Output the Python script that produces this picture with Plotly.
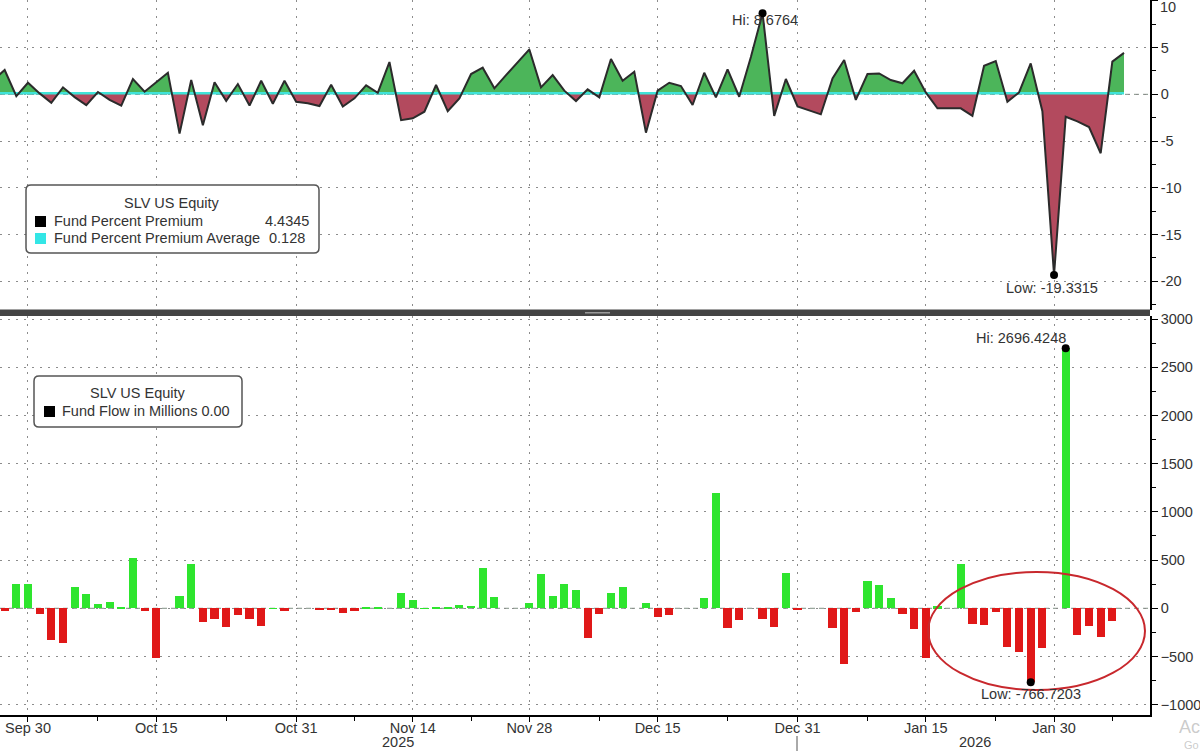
import plotly.graph_objects as go
import pandas as pd

# ---------------- data ----------------
dates = [d.strftime("%Y-%m-%d") for d in pd.bdate_range("2025-09-25", "2026-02-09")]

premium = [1.5,
    2.6, -0.2, 1.24, 0.1, -0.9, 0.75, -0.3, -1.15, 0.25, -0.6,
    -1.2, 1.64, 0.28, 1.3, 2.3, -4.2, 1.53, -3.3, 1.3, -0.7,
    1.1, -1.2, 1.45, -1.0, 1.45, -0.8, -0.95, -1.25, 1.03, -1.3,
    -0.43, 0.96, 0.17, 3.45, -2.76, -2.57, -1.86, 1.0, -1.8, -0.43,
    2.17, 2.85, 0.64, 2.06, 3.45, 4.8, 0.75, 2.06, 0.39, -0.72,
    0.53, -0.32, 3.78, 1.46, 2.42, -4.1, 0.39, 1.24, 0.89, -1.14,
    2.31, -0.32, 2.67, -0.26, 4.0, 8.6764, -2.3, 1.64, -1.3, -1.7,
    -2.14, 1.7, 3.67, -0.6, 2.17, 2.24, 1.53, 1.18, 2.52, 0.2,
    -1.5, -1.5, -1.5, -2.3, 3.06, 3.56, -0.79, 0.2, 3.3, -1.8,
    -19.3315, -2.4, -2.9, -3.5, -6.3, 3.5, 4.4345]

premium_avg = 0.128

flows = [None,
    -25, 249, 249, -59, -328, -356, 225, 149, 41, 62,
    5, 519, -28, -519, 0, 131, 460, -138, -114, -197,
    -73, -107, -183, 3, -28, 0, 0, -17, -17, -48,
    -28, 5, 5, 0, 156, 86, 3, 5, 10, 35,
    28, 422, 121, 0, 0, 52, 356, 131, 256, 190,
    -311, -62, 163, 225, 0, 52, -86, -73, 0, 0,
    111, 1193, -207, -121, 0, -114, -190, 370, -17, 0,
    0, -200, -581, -41, 287, 242, 111, -59, -218, -519,
    20, 0, 460, -163, -173, -41, -405, -450, -766.7203, -415,
    0, 2696.4248, -277, -183, -301, -128, 0]

tick_dates = ["2025-09-30", "2025-10-15", "2025-10-31", "2025-11-14", "2025-11-28",
              "2025-12-15", "2025-12-31", "2026-01-15", "2026-01-30"]
tick_labels = ["Sep 30", "Oct 15", "Oct 31", "Nov 14", "Nov 28",
               "Dec 15", "Dec 31", "Jan 15", "Jan 30"]
minor_dates = ["2025-10-08", "2025-10-23", "2025-11-07", "2025-11-21", "2025-12-08",
               "2025-12-23", "2026-01-08", "2026-01-23", "2026-02-06"]
year_labels = ["2025", "2026"]
top_ticks = [-20, -15, -10, -5, 0, 5, 10]
bottom_ticks = [-1000, -500, 0, 500, 1000, 1500, 2000, 2500, 3000]

# ---------------- helpers ----------------
W, H = 1150.0, 715.0
def px(v): return v / W
def py(v): return 1 - v / H

FONT = "Liberation Sans"
TXT = "#333333"
GREEN_FILL = "#4cb55a"
RED_FILL = "#b34a5e"
BAR_GREEN = "#2ee52e"
BAR_RED = "#e01818"
FS = 14.5

x = list(range(len(dates)))
idx = {d: i for i, d in enumerate(dates)}
tickvals = [idx[d] for d in tick_dates]
minorvals = [idx[d] for d in minor_dates]

# split premium area into above/below average parts (with crossing points)
xa, ya = [], []
for k in range(len(x)):
    if k > 0:
        v0 = premium[k - 1] - premium_avg
        v1 = premium[k] - premium_avg
        if v0 * v1 < 0:
            t = v0 / (v0 - v1)
            xa.append(x[k - 1] + t)
            ya.append(premium_avg)
    xa.append(x[k])
    ya.append(premium[k])
pos = [max(v, premium_avg) for v in ya]
neg = [min(v, premium_avg) for v in ya]
base = [premium_avg] * len(xa)

fig = go.Figure()
# top panel
fig.add_trace(go.Scatter(x=xa, y=base, mode="lines", line=dict(width=0), xaxis="x2", yaxis="y", hoverinfo="skip"))
fig.add_trace(go.Scatter(x=xa, y=pos, mode="lines", line=dict(width=0), fill="tonexty",
                         fillcolor=GREEN_FILL, xaxis="x2", yaxis="y", hoverinfo="skip"))
fig.add_trace(go.Scatter(x=xa, y=base, mode="lines", line=dict(width=0), xaxis="x2", yaxis="y", hoverinfo="skip"))
fig.add_trace(go.Scatter(x=xa, y=neg, mode="lines", line=dict(width=0), fill="tonexty",
                         fillcolor=RED_FILL, xaxis="x2", yaxis="y", hoverinfo="skip"))
fig.add_trace(go.Scatter(x=[x[0], x[-1]], y=[premium_avg, premium_avg], mode="lines",
                         line=dict(color="#3fe3d8", width=2.5), xaxis="x2", yaxis="y"))
fig.add_trace(go.Scatter(x=x, y=premium, mode="lines", line=dict(color="#2b2b2b", width=2),
                         xaxis="x2", yaxis="y"))

hi_p = max(range(len(premium)), key=lambda k: premium[k])
lo_p = min(range(len(premium)), key=lambda k: premium[k])
fig.add_trace(go.Scatter(x=[hi_p, lo_p], y=[premium[hi_p], premium[lo_p]], mode="markers",
                         marker=dict(color="black", size=8), xaxis="x2", yaxis="y"))

# bottom panel
fx = [x[k] for k in range(len(x)) if flows[k] is not None]
fy = [flows[k] for k in range(len(x)) if flows[k] is not None]
fig.add_trace(go.Bar(x=fx, y=fy, width=0.7,
                     marker=dict(color=[BAR_GREEN if v >= 0 else BAR_RED for v in fy], line=dict(width=0)),
                     xaxis="x", yaxis="y2"))
hi_f = max(range(len(fx)), key=lambda k: fy[k])
lo_f = min(range(len(fx)), key=lambda k: fy[k])
fig.add_trace(go.Scatter(x=[fx[hi_f], fx[lo_f]], y=[fy[hi_f], fy[lo_f]], mode="markers",
                         marker=dict(color="black", size=8), xaxis="x", yaxis="y2"))

# ranges
x_range = [0.6, 99.23]
top_range = [-23.07, 10.09]
bot_range = [-1107, 3032]

grid = dict(gridcolor="#8c8c8c", griddash="2px,6px", gridwidth=1)

fig.update_layout(
    template="none",
    width=1200, height=751,
    margin=dict(l=0, r=50, t=0, b=36, autoexpand=False),
    paper_bgcolor="white", plot_bgcolor="white",
    showlegend=False,
    bargap=0,
    font=dict(family=FONT, size=FS, color=TXT),
    xaxis=dict(domain=[0, 1], anchor="y2", range=x_range, tickmode="array", automargin=False,
               tickvals=tickvals, ticktext=tick_labels, ticks="outside", ticklen=5,
               tickcolor="black", showline=True, linecolor="black", linewidth=1.5,
               showgrid=True, zeroline=False, ticklabelstandoff=-6,
               minor=dict(tickvals=minorvals, ticks="outside", ticklen=4, tickcolor="black", showgrid=False),
               tickfont=dict(size=FS, color=TXT), **grid),
    xaxis2=dict(domain=[0, 1], anchor="y", matches="x", range=x_range, tickmode="array", automargin=False,
                tickvals=tickvals, showticklabels=False, ticks="", showline=False,
                showgrid=True, zeroline=False, **grid),
    yaxis=dict(domain=[py(310), 1], anchor="x2", side="right", range=top_range, automargin=False,
               tickmode="array", tickvals=top_ticks,
               ticktext=[str(v) if v != 10 else "" for v in top_ticks],
               ticks="outside", ticklen=6, tickcolor="black",
               showline=True, linecolor="black", linewidth=1.5, zeroline=False, showgrid=True,
               minor=dict(dtick=2.5, tick0=0, ticks="outside", ticklen=4, tickcolor="black", showgrid=False),
               tickfont=dict(size=FS, color=TXT), **grid),
    yaxis2=dict(domain=[0, py(316)], anchor="x", side="right", range=bot_range, automargin=False,
                tickmode="array", tickvals=bottom_ticks, ticks="outside", ticklen=6, tickcolor="black",
                showline=True, linecolor="black", linewidth=1.5, zeroline=False, showgrid=True,
                minor=dict(dtick=250, tick0=0, ticks="outside", ticklen=4, tickcolor="black", showgrid=False),
                tickfont=dict(size=FS, color=TXT), **grid),
)

shapes = []
# zero reference dashed lines
shapes.append(dict(type="line", xref="paper", yref="y", x0=0, x1=1, y0=0, y1=0,
                   line=dict(color="#7f8f82", width=1, dash="5px,4px"), layer="below"))
shapes.append(dict(type="line", xref="paper", yref="y2", x0=0, x1=1, y0=0, y1=0,
                   line=dict(color="#7f8f82", width=1, dash="5px,4px"), layer="below"))
# separator band between panels
shapes.append(dict(type="rect", xref="paper", yref="paper", x0=0, x1=1, y0=py(316), y1=py(309.5),
                   fillcolor="#444444", line=dict(width=0), layer="above"))
shapes.append(dict(type="rect", xref="paper", yref="paper", x0=px(585), x1=px(610), y0=py(313.5), y1=py(312),
                   fillcolor="#9a9a9a", line=dict(width=0), layer="above"))
# year divider tick
shapes.append(dict(type="line", xref="paper", yref="paper", x0=px(797), x1=px(797), y0=py(736), y1=py(751),
                   line=dict(color="#555555", width=1)))

def rounded(x0, y0, x1, y1, r=5):
    X0, X1 = px(x0), px(x1)
    YT, YB = py(y0), py(y1)
    rx, ry = r / W, r / H
    return (f"M {X0+rx},{YT} L {X1-rx},{YT} Q {X1},{YT} {X1},{YT-ry} L {X1},{YB+ry} "
            f"Q {X1},{YB} {X1-rx},{YB} L {X0+rx},{YB} Q {X0},{YB} {X0},{YB+ry} "
            f"L {X0},{YT-ry} Q {X0},{YT} {X0+rx},{YT} Z")

# legend boxes
shapes.append(dict(type="path", xref="paper", yref="paper", path=rounded(26, 185, 319, 253),
                   fillcolor="white", line=dict(color="#555555", width=1.5)))
shapes.append(dict(type="rect", xref="paper", yref="paper", x0=px(35), x1=px(46), y0=py(227), y1=py(216),
                   fillcolor="black", line=dict(width=0)))
shapes.append(dict(type="rect", xref="paper", yref="paper", x0=px(35), x1=px(46), y0=py(244), y1=py(233),
                   fillcolor="#33e6e6", line=dict(width=0)))
shapes.append(dict(type="path", xref="paper", yref="paper", path=rounded(34, 376, 242, 427),
                   fillcolor="white", line=dict(color="#555555", width=1.5)))
shapes.append(dict(type="rect", xref="paper", yref="paper", x0=px(44), x1=px(55), y0=py(417), y1=py(406),
                   fillcolor="black", line=dict(width=0)))
# highlight ellipse
shapes.append(dict(type="circle", xref="x", yref="y2", x0=80.2, x1=98.8, y0=-848, y1=377,
                   line=dict(color="#c8282d", width=2)))
fig.update_layout(shapes=shapes)

ann = []
def txt(xp, yp, s, anchor="left", size=FS, color=TXT):
    ann.append(dict(xref="paper", yref="paper", x=px(xp), y=py(yp), text=s, showarrow=False,
                    xanchor=anchor, yanchor="middle", font=dict(size=size, color=color, family=FONT)))

txt(172, 203, "SLV US Equity", "center")
txt(52, 221, "Fund Percent Premium")
txt(311, 221, f"{premium[-1]:.4f}", "right")
txt(52, 238, "Fund Percent Premium Average")
txt(267, 238, f"{premium_avg:.3f}")
txt(138, 393, "SLV US Equity", "center")
txt(60, 411, f"Fund Flow in Millions {0:.2f}")
txt(398, 742, year_labels[0], "center")
txt(975, 742, year_labels[1], "center")
txt(1158, 7, str(top_ticks[-1]), "left")
txt(1177, 727, "Activate Windows", "left", 18, "rgba(160,160,160,0.55)")
txt(1182, 745, "Go to Settings", "left", 11, "rgba(160,160,160,0.55)")

# Hi / Low labels
ann.append(dict(xref="x2", yref="y", x=hi_p, y=premium[hi_p], text=f"Hi: {premium[hi_p]:.4f}",
                showarrow=False, xanchor="center", yanchor="middle", yshift=-7, xshift=2,
                font=dict(size=FS, color=TXT)))
ann.append(dict(xref="x2", yref="y", x=lo_p, y=premium[lo_p], text=f"Low: {premium[lo_p]:.4f}",
                showarrow=False, xanchor="center", yanchor="middle", yshift=-13, xshift=-2,
                font=dict(size=FS, color=TXT)))
ann.append(dict(xref="x", yref="y2", x=fx[hi_f], y=fy[hi_f], text=f"Hi: {fy[hi_f]:.4f}",
                showarrow=False, xanchor="right", yanchor="middle", yshift=10, xshift=2,
                font=dict(size=FS, color=TXT)))
ann.append(dict(xref="x", yref="y2", x=fx[lo_f], y=fy[lo_f], text=f"Low: {fy[lo_f]:.4f}",
                showarrow=False, xanchor="center", yanchor="middle", yshift=-12, xshift=0,
                font=dict(size=FS, color=TXT)))
fig.update_layout(annotations=ann)

fig.write_html("out.html", config={"displayModeBar": False},
               post_script="document.body.style.margin='0';document.body.style.overflow='hidden';")
